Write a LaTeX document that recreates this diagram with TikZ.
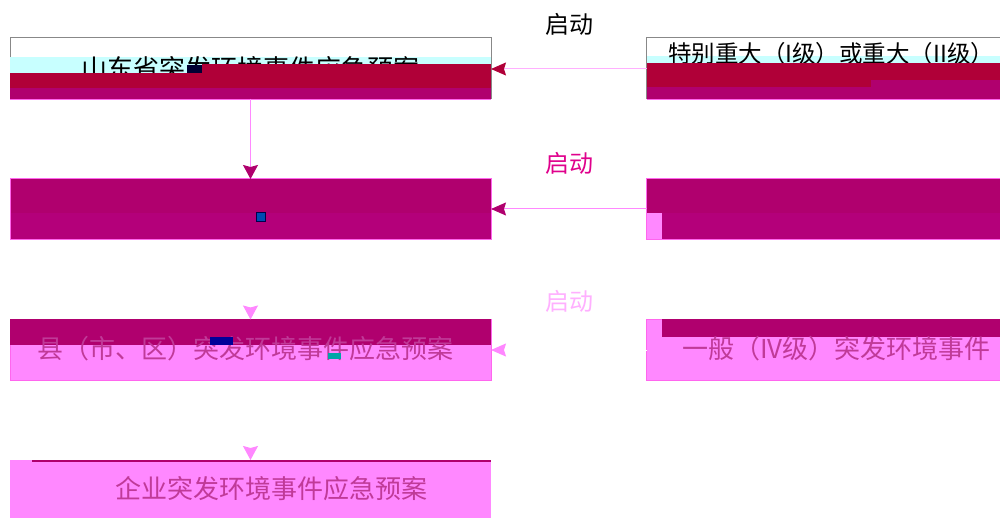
\documentclass[tikz,border=0pt]{standalone}
\usepackage{fontspec}
\newfontfamily\cjk{Noto Sans CJK SC}
\usetikzlibrary{arrows.meta}
\definecolor{cyanband}{HTML}{C8FFFF}
\definecolor{crimson}{HTML}{B00038}
\definecolor{dmag}{HTML}{B0006E}
\definecolor{dmagb}{HTML}{B4007A}
\definecolor{pinkf}{HTML}{FF88FF}
\definecolor{pinkl}{HTML}{FF66EE}
\definecolor{pinktxt}{HTML}{C03A98}
\definecolor{lab2}{HTML}{E0008C}
\definecolor{lab3}{HTML}{FFB0FF}
\definecolor{grayl}{HTML}{888888}
\tikzset{
  box/.style={rectangle, inner sep=0pt, outer sep=0pt, line width=1pt},
  boxtext/.style={inner sep=0pt, outer sep=0pt, font=\cjk\fontsize{26}{26}\selectfont},
  lab/.style={inner sep=0pt, anchor=base, font=\cjk\fontsize{24}{24}\selectfont},
  arr/.style={line width=1pt},
}
\begin{document}
\begin{tikzpicture}[x=1pt,y=-1pt]
\useasboundingbox (0,0) rectangle (1000,518);
\clip (0,0) rectangle (1000,518);
\fill[white] (0,0) rectangle (1000,518);

% ---------- row 1 ----------
\node[box, draw=grayl, fill=white, minimum width=481pt, minimum height=61pt] (b1) at (250.5,68.5) {};
\node[box, draw=grayl, fill=white, minimum width=413pt, minimum height=61pt] (b2) at (853,68.5) {};
\fill[cyanband] (10,56.7) rectangle (491,72.7);
\fill[cyanband] (646.7,56) rectangle (1000,63.5);
\node[boxtext, anchor=base] (t1) at (250.5,78.6) {山东省突发环境事件应急预案};
\node[boxtext, anchor=base west, font=\cjk\fontsize{23.5}{24}\selectfont] (t2) at (668,62.5) {特别重大（I级）或重大（II级）};
\fill[crimson] (10,72.7) rectangle (202,87.7);
\fill[crimson] (202,64.3) rectangle (491,87.7);
\fill[dmag] (10,87.7) rectangle (491,99.3);
\fill[black!80!blue] (187,65) rectangle (202,73);
\fill[crimson] (646.7,63.5) rectangle (871,87);
\fill[crimson] (871,63.5) rectangle (1000,80);
\fill[dmag] (646.7,87) rectangle (871,99.3);
\fill[dmag] (871,80) rectangle (1000,99.3);
\draw[pinkl, line width=1pt] (10,99.3) -- (491,99.3) (646.7,99.3) -- (1000,99.3);

% ---------- row 2 ----------
\node[box, draw=pinkl, fill=dmag, minimum width=481pt, minimum height=61pt] (b3) at (250.5,209.5) {};
\node[box, draw=pinkl, fill=dmag, minimum width=413pt, minimum height=61pt] (b4) at (853,209.5) {};
\fill[dmagb] (10.5,213) rectangle (490.5,239.5);
\fill[pinkf] (647.2,212.7) rectangle (661.7,239.5);
\fill[dmagb] (661.7,212.7) rectangle (1000,239.5);
\filldraw[fill=blue!40!teal, draw=black!70!blue] (256,212) rectangle (265,221);

% ---------- row 3 ----------
\node[box, draw=pinkl, fill=pinkf, minimum width=481pt, minimum height=61pt] (b5) at (250.5,350) {};
\node[box, draw=pinkl, fill=pinkf, minimum width=413pt, minimum height=61pt] (b6) at (853,350) {};
\fill[dmag] (10,319.3) rectangle (491,345);
\fill[dmag] (661.7,319.3) rectangle (1000,336.7);
\node[boxtext, anchor=base west, text=pinktxt] (t5) at (37,358.6) {县（市、区）突发环境事件应急预案};
\node[boxtext, anchor=base west, text=pinktxt] (t6) at (682,358.6) {一般（IV级）突发环境事件};
\fill[blue!60!black] (210,337) rectangle (233,345);
\fill[teal!70!cyan] (328,353) rectangle (341,359);

% ---------- row 4 ----------
\node[box, fill=pinkf, minimum width=481pt, minimum height=70pt] (b7) at (250.5,495) {};
\fill[dmag] (32,460) rectangle (491,462);
\node[boxtext, anchor=base west, text=pinktxt] (t7) at (115,498.6) {企业突发环境事件应急预案};

% ---------- labels ----------
\node[lab, text=black] (l1) at (569,34) {启动};
\node[lab, text=lab2] (l2) at (569,173) {启动};
\node[lab, text=lab3] (l3) at (569,310) {启动};

% ---------- connectors ----------
\draw[arr, pinkf, -{Stealth[length=14pt,width=15pt,inset=2pt,color=dmag]}] (b1.south) -- (b3.north);
\draw[arr, white, -{Stealth[length=14pt,width=15pt,inset=2pt,color=pinkf]}] (b3.south) -- (b5.north);
\draw[arr, white, -{Stealth[length=14pt,width=15pt,inset=2pt,color=pinkf]}] (b5.south) -- (b7.north);
\draw[arr, lab3, -{Stealth[length=15pt,width=13pt,inset=2pt,color=crimson]}] (b2.west |- 0,69) -- (b1.east |- 0,69);
\draw[arr, pinkf, -{Stealth[length=15pt,width=13pt,inset=2pt,color=dmag]}] (b4.west |- 0,209) -- (b3.east |- 0,209);
\draw[arr, white, -{Stealth[length=15pt,width=13pt,inset=2pt,color=pinkf]}] (b6.west |- 0,350) -- (b5.east |- 0,350);
\end{tikzpicture}
\end{document}
